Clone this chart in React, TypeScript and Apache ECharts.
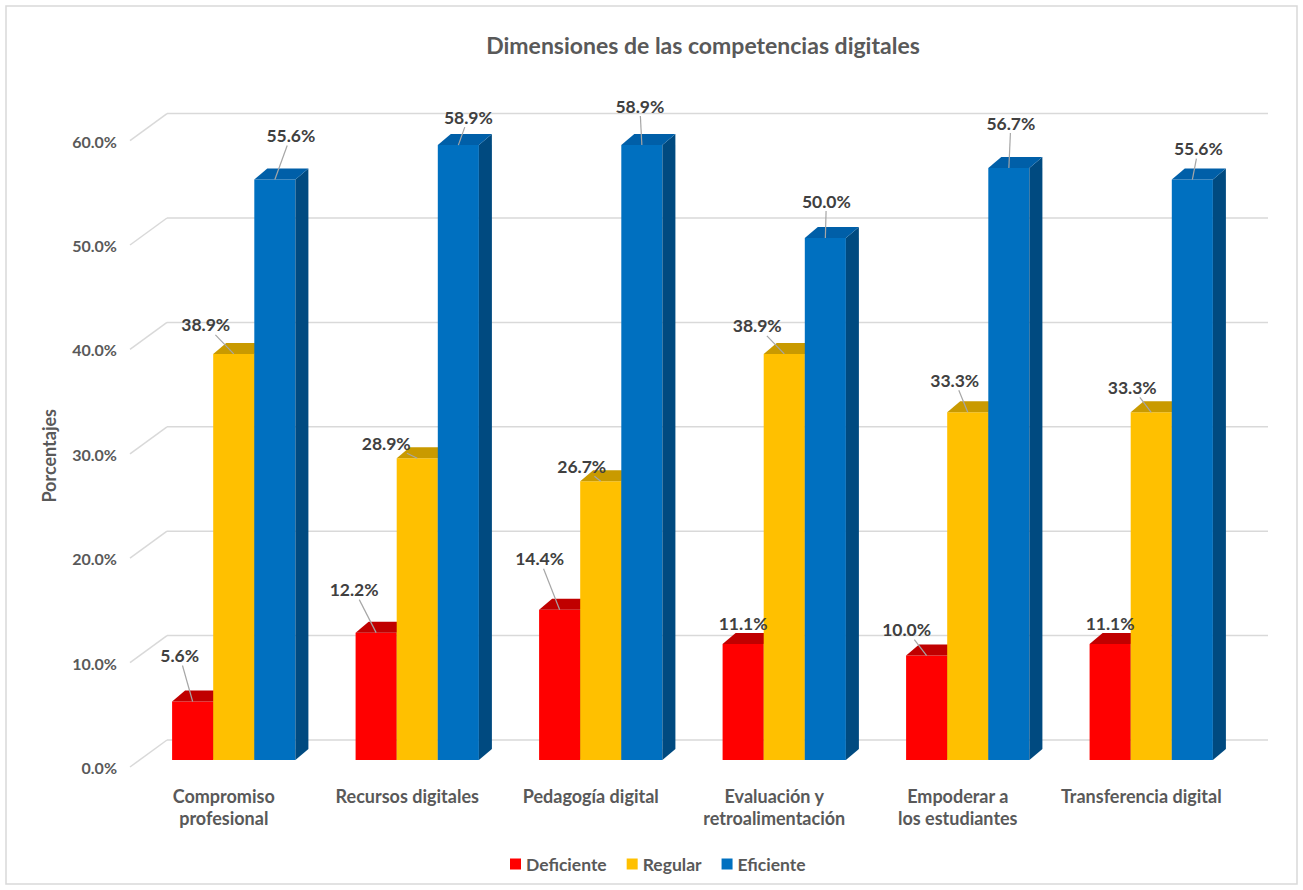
import React, { useEffect, useRef } from "react";
import * as echarts from "echarts";

const categories = [
  "Compromiso\nprofesional",
  "Recursos digitales",
  "Pedagogía digital",
  "Evaluación y\nretroalimentación",
  "Empoderar a\nlos estudiantes",
  "Transferencia digital",
];
const seriesNames = ["Deficiente", "Regular", "Eficiente"];
const deficiente = [5.6, 12.2, 14.4, 11.1, 10.0, 11.1];
const regular = [38.9, 28.9, 26.7, 38.9, 33.3, 33.3];
const eficiente = [55.6, 58.9, 58.9, 50.0, 56.7, 55.6];
const yTicks = [0, 10, 20, 30, 40, 50, 60];

// manual label placement (pixel offsets from the bar's top-front centre)
const labelOffsets = [
  [[-13, -46], [-22, -43], [-20, -51], [0, -21], [-20, -26], [0, -21]],
  [[-28, -29], [-31, -15], [-19, -15], [-27, -28], [-13, -32], [-19, -25]],
  [[16, -44], [10, -28], [-2, -39], [1, -37], [2, -45], [6, -31]],
];

const palette = [
  { front: "#FF0000", top: "#C00000", side: "#A00000" },
  { front: "#FFC000", top: "#C99A00", side: "#BF9000" },
  { front: "#0070C0", top: "#005FA8", side: "#004A80" },
];

const FONT = "Lato, 'Open Sans', sans-serif";
const DX = 13;
const DY = 11;

function barRender(si: number) {
  return (params: any, api: any) => {
    const idx = api.value(0);
    const val = api.value(1);
    const base = api.coord([idx, 0]);
    const top = api.coord([idx, val]);
    const band = api.size([1, 0])[0];
    const bw = band * 0.224;
    const cx = base[0] + (si - 1) * bw;
    const x0 = cx - bw / 2;
    const x1 = cx + bw / 2;
    const yT = top[1];
    const yB = base[1];
    const c = palette[si];
    const off = labelOffsets[si][params.dataIndex];
    const lx = cx + off[0];
    const ly = yT + off[1];
    const children: any[] = [
      {
        type: "rect",
        shape: { x: x0, y: yT, width: x1 - x0, height: yB - yT },
        style: { fill: c.front },
      },
      {
        type: "polygon",
        shape: { points: [[x1, yT], [x1 + DX, yT - DY], [x1 + DX, yB - DY], [x1, yB]] },
        style: { fill: c.side },
      },
      {
        type: "polygon",
        shape: { points: [[x0, yT], [x1, yT], [x1 + DX, yT - DY], [x0 + DX, yT - DY]] },
        style: { fill: c.top },
      },
      {
        type: "text",
        z2: 20,
        style: {
          text: val.toFixed(1) + "%",
          x: lx,
          y: ly,
          align: "center",
          verticalAlign: "middle",
          fill: "#404040",
          fontSize: 17.5,
          fontWeight: "bold",
          fontFamily: FONT,
        },
      },
    ];
    const ddx = off[0];
    const ddy = off[1];
    const len = Math.sqrt(ddx * ddx + ddy * ddy);
    if (len > 22) {
      const s = Math.min(ddx === 0 ? 99 : 26 / Math.abs(ddx), ddy === 0 ? 99 : 10 / Math.abs(ddy));
      if (s < 1) {
        children.push({
          type: "line",
          z2: 19,
          shape: { x1: cx, y1: yT, x2: lx - ddx * s, y2: ly - ddy * s },
          style: { stroke: "#A6A6A6", lineWidth: 1.2 },
        });
      }
    }
    return { type: "group", children };
  };
}

function gridRender(params: any, api: any) {
  const v = api.value(1);
  const p = api.coord([0, v]);
  const cs = params.coordSys;
  const y = p[1];
  const bx = cs.x + 25;
  return {
    type: "group",
    children: [
      {
        type: "line",
        shape: { x1: cs.x - 12, y1: y + 7, x2: bx, y2: y - 20 },
        style: { stroke: "#D9D9D9", lineWidth: 1.5 },
      },
      {
        type: "line",
        shape: { x1: bx, y1: y - 20, x2: cs.x + cs.width + 25, y2: y - 20 },
        style: { stroke: "#D9D9D9", lineWidth: 1.5 },
      },
    ],
  };
}

export default function App() {
  const ref = useRef<HTMLDivElement>(null);
  useEffect(() => {
    if (!ref.current) return;
    const chart = echarts.init(ref.current, undefined, { renderer: "svg" });
    const seriesData = [deficiente, regular, eficiente];
    chart.setOption({
      animation: false,
      backgroundColor: "#FFFFFF",
      title: {
        text: "Dimensiones de las competencias digitales",
        left: 698,
        top: 28,
        textAlign: "center",
        textStyle: { color: "#595959", fontSize: 23, fontWeight: "bold", fontFamily: FONT },
      },
      graphic: [
        {
          type: "rect",
          shape: { x: 6, y: 6, width: 1291, height: 878 },
          style: { fill: "none", stroke: "#D9D9D9", lineWidth: 1.5 },
          silent: true,
        },
      ],
      legend: {
        data: seriesNames,
        left: 505,
        top: 850,
        icon: "rect",
        itemWidth: 11,
        itemHeight: 11,
        itemGap: 20,
        textStyle: { color: "#595959", fontSize: 17.5, fontWeight: "bold", fontFamily: FONT },
      },
      grid: { left: 142, right: 60, top: 133.6, bottom: 130 },
      xAxis: {
        type: "category",
        data: categories,
        axisLine: { show: false },
        axisTick: { show: false },
        splitLine: { show: false },
        axisLabel: {
          interval: 0,
          margin: 25,
          color: "#595959",
          fontSize: 18,
          fontWeight: "bold",
          fontFamily: FONT,
          lineHeight: 22,
          padding: [0, 20, 0, 0],
        },
      },
      yAxis: {
        type: "value",
        min: 0,
        max: 60,
        interval: 10,
        name: "Porcentajes",
        nameLocation: "middle",
        nameGap: 84,
        nameRotate: 90,
        nameTextStyle: {
          color: "#595959",
          fontSize: 18,
          fontWeight: "bold",
          fontFamily: FONT,
          padding: [0, 18, 0, 0],
        },
        axisLine: { show: false },
        axisTick: { show: false },
        splitLine: { show: false },
        axisLabel: {
          margin: 25,
          verticalAlign: "top",
          lineHeight: 15,
          color: "#595959",
          fontSize: 16,
          fontWeight: "bold",
          fontFamily: FONT,
          formatter: (v: number) => v.toFixed(1) + "%",
        },
      },
      series: [
        {
          type: "custom",
          name: "grid",
          silent: true,
          renderItem: gridRender,
          data: yTicks.map((v) => [0, v]),
          encode: { x: 0, y: 1 },
          z: 1,
        },
        ...seriesNames.map((name, si) => ({
          type: "custom",
          name,
          itemStyle: { color: palette[si].front },
          renderItem: barRender(si),
          data: seriesData[si].map((v, i) => [i, v]),
          encode: { x: 0, y: 1 },
          z: 2,
        })),
      ],
    });
    return () => chart.dispose();
  }, []);
  return (
    <div
      ref={ref}
      style={{ position: "fixed", left: 0, top: 0, width: 1303, height: 890 }}
    />
  );
}
